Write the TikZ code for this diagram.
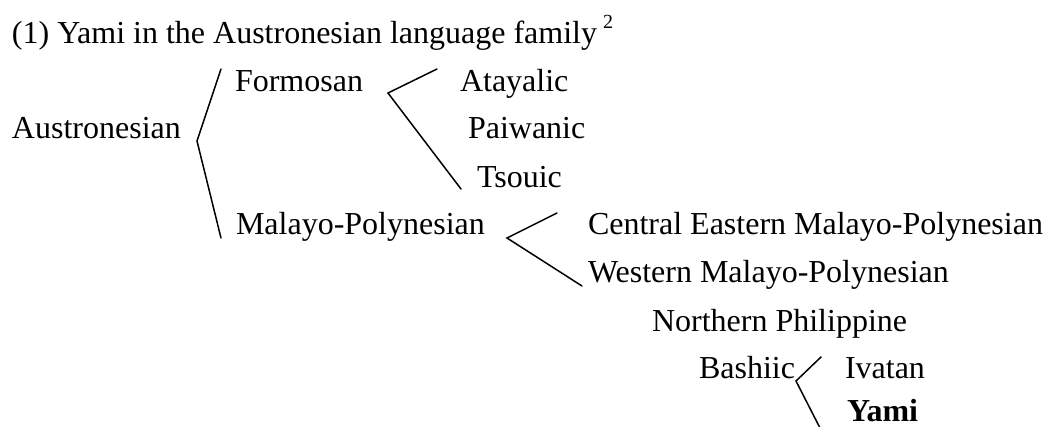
\documentclass[tikz,border=0pt]{standalone}
\usepackage{fontspec}
\setmainfont{Liberation Serif}
\begin{document}
\begin{tikzpicture}[x=1pt,y=-1pt,
  lbl/.style={anchor=base west,inner sep=0pt,outer sep=0pt,font=\fontsize{32}{38}\selectfont},
  sup/.style={anchor=base west,inner sep=0pt,outer sep=0pt,font=\fontsize{20}{22}\selectfont},
  br/.style={line width=1.5pt,line cap=round,line join=miter}]
\useasboundingbox (0,0) rectangle (1047,426);
\node[lbl] (title) at (12,43) {(1) Yami in the Austronesian language family};
\node[sup] (two) at (603,28) {2};
\node[lbl] (aus) at (12,138) {Austronesian};
\node[lbl] (for) at (235,91) {Formosan};
\node[lbl] (ata) at (460,91) {Atayalic};
\node[lbl] (pai) at (468,138) {Paiwanic};
\node[lbl] (tso) at (477,187) {Tsouic};
\node[lbl] (mp) at (236,234) {Malayo-Polynesian};
\node[lbl] (cemp) at (588,234) {Central Eastern Malayo-Polynesian};
\node[lbl] (wmp) at (588,282) {Western Malayo-Polynesian};
\node[lbl] (np) at (652,331) {Northern Philippine};
\node[lbl] (bas) at (699,378) {Bashiic};
\node[lbl] (iva) at (845,378) {Ivatan};
\node[lbl,font=\fontsize{32}{38}\selectfont\bfseries] (yam) at (847,421) {Yami};
% brackets
\coordinate (a1) at (221,69);
\coordinate (av) at (197,141);
\coordinate (a2) at (221,238);
\draw[br] (a1) -- (av) -- (a2);
\coordinate (f1) at (437,69);
\coordinate (fv) at (388,93);
\coordinate (f2) at (461,189);
\draw[br] (f1) -- (fv) -- (f2);
\coordinate (m1) at (557,213);
\coordinate (mv) at (507,238);
\coordinate (m2) at (582,286);
\draw[br] (m1) -- (mv) -- (m2);
\coordinate (b1) at (821,357);
\coordinate (bv) at (796,381);
\coordinate (b2) at (820,428);
\draw[br] (b1) -- (bv) -- (b2);
\end{tikzpicture}
\end{document}
